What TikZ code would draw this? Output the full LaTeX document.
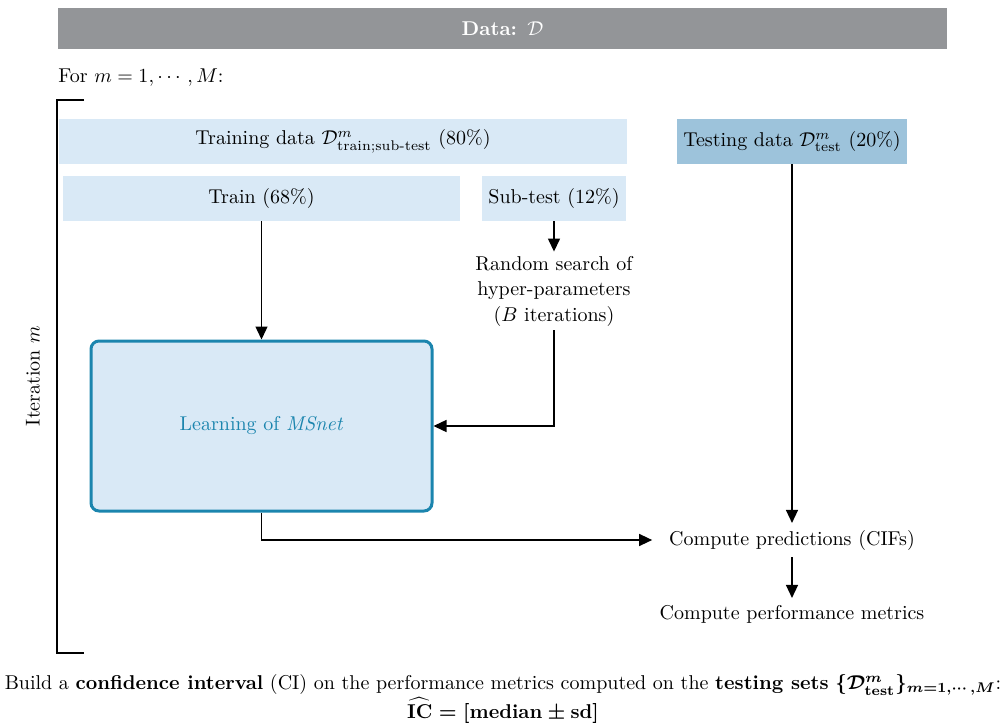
\documentclass[tikz,border=0pt]{standalone}
\usepackage{amsmath,amssymb}
\usepackage{tikz}
\usetikzlibrary{arrows.meta,positioning}
\definecolor{datagray}{HTML}{939598}
\definecolor{splitblue}{HTML}{D9E9F6}
\definecolor{testblue}{HTML}{9DC3DB}
\definecolor{learnblue}{HTML}{1B85AE}

\tikzset{
  splitbox/.style={fill=splitblue,minimum height=22.5pt,inner sep=0pt},
  flow/.style={line width=0.7pt,-{Triangle[length=6.5pt,width=6pt]}},
}

\begin{document}
\begin{tikzpicture}[x=0.5pt,y=-0.5pt]
        \useasboundingbox (0,0) rectangle (1003,723);
        \node[fill=datagray,text=white,font=\bfseries,minimum width=444.5pt,minimum height=20.5pt] (data) at (502.5,28.5) {Data: $\mathcal{D}$};
        \node[anchor=west,inner sep=0pt] (loop) at (58,78) {For $m=1,\cdots,M$:};
        \draw[line width=0.9pt] (84,100) -| (57,653) -- (84,653);
        \node[rotate=90] (iter) at (33,376) {Iteration $m$};

        % data splits
        \node[splitbox,minimum width=284pt] (trainall) at (343,141.5) {Training data $\mathcal{D}^m_{\text{train;sub-test}}$ (80\%)};
        \node[splitbox,fill=testblue,minimum width=115pt] (testing) at (792,141.5) {Testing data $\mathcal{D}^m_{\text{test}}$ (20\%)};
        \node[splitbox,minimum width=198.5pt] (train) at (261.5,198.5) {Train (68\%)};
        \node[splitbox,minimum width=72pt] (subtest) at (554,198.5) {Sub-test (12\%)};
        \node[align=center,inner sep=2pt,execute at begin node=\setlength{\baselineskip}{12.75pt}] (search) at (554,291) {Random search of\\hyper-parameters\\($B$ iterations)};

        \node[draw=learnblue,line width=1.5pt,fill=splitblue,rounded corners=4pt,text=learnblue,
              minimum width=170.5pt,minimum height=85pt] (learn) at (261.5,426) {Learning of \textit{MSnet}};

        \node (preds) at (792,540) {Compute predictions (CIFs)};
        \node (perf) at (792,614) {Compute performance metrics};

        \draw[flow] (subtest) -- (search);
        \draw[flow] (train) -- (learn);
        \draw[flow] (search.south) |- (learn.east);
        \draw[flow] (testing) -- (preds);
        \draw[flow,shorten >=5pt] (learn.south) |- (preds.west);
        \draw[flow] (preds) -- (perf);

        \node[align=center,inner sep=0pt] (ci) at (503,699) {Build a \textbf{confidence interval} (CI) on the performance metrics computed on the \textbf{testing sets} {\boldmath$\{\mathcal{D}^m_{\textbf{test}}\}_{m=1,\cdots,M}$}:\\
          {\boldmath$\widehat{\textbf{IC}} = [\textbf{median} \pm \textbf{sd}]$}};
      \end{tikzpicture}
\end{document}
